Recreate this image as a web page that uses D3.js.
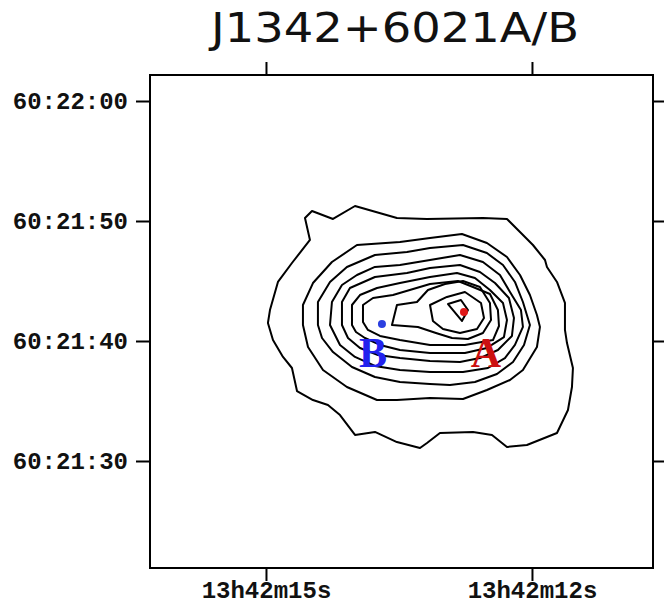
<!DOCTYPE html>
<html>
<head>
<meta charset="utf-8">
<script src="https://cdn.jsdelivr.net/npm/d3@7"></script>
<style>
  body { margin: 0; background: #fff; }
  .tick text { font-family: "Liberation Mono", "DejaVu Sans Mono", monospace; font-weight: bold; font-size: 24px; fill: #111; }
  .tick line { stroke: #000; stroke-width: 2; }
  .domain { display: none; }
</style>
</head>
<body>
<div id="container"></div>
<script>
// RA in seconds past 13h42m, Dec in arcsec past 60:21:00
const xTicks = [15, 12];
const xTickLabels = ["13h42m15s", "13h42m12s"];
const yTicks = [60, 50, 40, 30];
const yTickLabels = ["60:22:00", "60:21:50", "60:21:40", "60:21:30"];

// contour levels, outermost first, each a closed ring of [ra, dec]
const contour1 = [[14.560,50.25],[14.481,50.83],[14.244,50.17],[13.996,51.25],[13.523,50.25],[13.184,50.17],[12.553,50.25],[12.282,50.17],[12.135,49.08],[11.989,48.00],[11.853,46.75],[11.831,46.17],[11.718,44.92],[11.628,43.17],[11.628,40.92],[11.605,39.83],[11.538,37.75],[11.549,36.17],[11.594,34.25],[11.718,32.33],[12.057,31.33],[12.282,31.17],[12.451,32.17],[12.665,32.42],[13.038,32.33],[13.184,31.50],[13.263,31.08],[13.523,31.58],[13.771,32.42],[13.996,32.17],[14.165,33.83],[14.301,34.67],[14.470,35.08],[14.650,35.83],[14.707,37.75],[14.808,38.67],[14.921,40.08],[14.978,41.50],[14.955,42.58],[14.865,44.92],[14.707,46.50],[14.504,48.42]];
const contour2 = [[14.583,41.33],[14.583,43.00],[14.470,44.83],[14.256,46.58],[13.974,48.00],[13.489,48.25],[13.150,48.58],[12.790,48.92],[12.508,48.17],[12.282,47.00],[12.135,45.50],[12.023,43.83],[11.944,42.17],[11.910,41.17],[11.944,39.50],[12.102,37.58],[12.248,36.75],[12.508,35.92],[12.778,35.17],[13.150,35.25],[13.523,35.08],[13.748,35.08],[14.087,36.17],[14.357,37.58],[14.526,39.50]];
const contour3 = [[14.414,41.33],[14.414,43.25],[14.278,44.92],[14.087,46.17],[13.771,47.17],[13.410,47.42],[13.150,47.75],[12.778,48.00],[12.508,47.33],[12.327,46.33],[12.192,44.92],[12.102,43.25],[12.023,41.33],[12.090,39.67],[12.214,38.25],[12.395,37.25],[12.643,36.58],[12.925,36.33],[13.150,36.42],[13.489,36.58],[13.771,37.00],[14.030,37.83],[14.244,39.08],[14.368,40.25]];
const contour4 = [[14.278,41.33],[14.256,43.25],[14.143,44.67],[13.974,45.50],[13.771,46.17],[13.489,46.33],[13.150,46.75],[12.812,47.17],[12.553,46.58],[12.361,45.50],[12.248,44.08],[12.124,42.58],[12.102,41.17],[12.192,39.67],[12.305,38.58],[12.496,37.75],[12.778,37.42],[13.150,37.42],[13.489,37.58],[13.771,37.92],[13.996,38.67],[14.165,39.67]];
const contour5 = [[14.143,41.33],[14.143,43.25],[14.053,44.42],[13.771,45.33],[13.410,45.67],[13.150,46.08],[12.812,46.33],[12.587,45.75],[12.417,44.83],[12.260,43.58],[12.203,41.92],[12.226,40.42],[12.384,39.25],[12.587,38.58],[12.812,38.25],[13.150,38.33],[13.489,38.58],[13.737,38.83],[13.940,39.42],[14.075,40.25]];
const contour6 = [[14.030,41.33],[14.030,43.00],[13.940,43.83],[13.748,44.42],[13.489,44.83],[13.150,45.33],[12.846,45.67],[12.643,45.25],[12.474,44.25],[12.327,43.17],[12.282,41.75],[12.316,40.33],[12.508,39.42],[12.756,39.00],[13.150,39.00],[13.489,39.25],[13.714,39.67],[13.884,40.25],[13.985,40.75]];
const contour7 = [[13.906,41.58],[13.906,43.00],[13.793,43.58],[13.568,43.83],[13.150,44.75],[12.835,45.00],[12.665,44.50],[12.474,43.92],[12.384,42.58],[12.372,41.25],[12.440,40.08],[12.756,39.67],[13.150,39.67],[13.489,40.08],[13.714,40.42],[13.850,40.92]];
const contour8 = [[13.579,41.33],[13.523,43.00],[13.297,43.25],[13.173,44.25],[12.981,44.75],[12.778,45.00],[12.587,44.50],[12.474,43.17],[12.462,41.75],[12.553,40.67],[12.722,40.17],[12.902,40.25],[13.083,40.67],[13.286,41.17]];
const contour9 = [[13.150,43.00],[12.959,43.67],[12.756,44.08],[12.575,43.17],[12.541,41.92],[12.620,41.00],[12.812,40.67],[13.004,41.00],[13.117,41.67]];
const contour10 = [[12.947,43.08],[12.801,43.42],[12.722,42.58],[12.790,41.67]];
const contours = [contour1, contour2, contour3, contour4, contour5, contour6, contour7, contour8, contour9, contour10];

const sourceNames = ["A", "B"];
const sourceRA = [12.767, 13.692];
const sourceDec = [42.42, 41.42];
const labelRA = [12.519, 13.793];
const labelDec = [37.83, 37.83];
const sourceColors = ["#e01818", "#2b3fe0"];
const labelColors = ["#cc1111", "#2222ee"];

const width = 664, height = 606;
const plotLeft = 150, plotRight = 653, plotTop = 75, plotBottom = 568;

const svg = d3.select('#container').append('svg')
    .attr('width', width)
    .attr('height', height);

const xScale = d3.scaleLinear()
    .domain([16.308, 10.635])
    .range([plotLeft, plotRight]);

const yScale = d3.scaleLinear()
    .domain([21.083, 62.167])
    .range([plotBottom, plotTop]);

svg.append('text')
    .attr('x', 395)
    .attr('y', 42)
    .attr('text-anchor', 'middle')
    .attr('textLength', 368)
    .attr('lengthAdjust', 'spacingAndGlyphs')
    .style('font-family', '"DejaVu Sans", sans-serif')
    .style('font-size', '41px')
    .attr('fill', '#111')
    .text('J1342+6021A/B');

// axes on all four sides, ticks outside
svg.append('g')
    .attr('transform', `translate(0, ${plotBottom})`)
    .call(d3.axisBottom(xScale).tickValues(xTicks).tickSize(13).tickSizeOuter(0).tickPadding(0)
        .tickFormat((d, i) => xTickLabels[i]));

svg.append('g')
    .attr('transform', `translate(0, ${plotTop})`)
    .call(d3.axisTop(xScale).tickValues(xTicks).tickSize(13).tickSizeOuter(0).tickFormat(''));

svg.append('g')
    .attr('transform', `translate(${plotLeft}, 0)`)
    .call(d3.axisLeft(yScale).tickValues(yTicks).tickSize(14).tickSizeOuter(0).tickPadding(8)
        .tickFormat((d, i) => yTickLabels[i]));

svg.append('g')
    .attr('transform', `translate(${plotRight}, 0)`)
    .call(d3.axisRight(yScale).tickValues(yTicks).tickSize(13).tickSizeOuter(0).tickFormat(''));

svg.append('rect')
    .attr('x', plotLeft)
    .attr('y', plotTop)
    .attr('width', plotRight - plotLeft)
    .attr('height', plotBottom - plotTop)
    .attr('fill', 'none')
    .attr('stroke', '#000')
    .attr('stroke-width', 2);

const line = d3.line()
    .x(d => xScale(d[0]))
    .y(d => yScale(d[1]))
    .curve(d3.curveLinearClosed);

svg.append('g')
    .selectAll('path')
    .data(contours)
    .enter()
    .append('path')
    .attr('d', line)
    .attr('fill', 'none')
    .attr('stroke', '#000')
    .attr('stroke-width', 2)
    .attr('stroke-linejoin', 'round');

svg.append('g')
    .selectAll('circle')
    .data(sourceNames)
    .enter()
    .append('circle')
    .attr('cx', (d, i) => xScale(sourceRA[i]))
    .attr('cy', (d, i) => yScale(sourceDec[i]))
    .attr('r', 4)
    .attr('fill', (d, i) => sourceColors[i]);

svg.append('g')
    .selectAll('text')
    .data(sourceNames)
    .enter()
    .append('text')
    .attr('x', (d, i) => xScale(labelRA[i]))
    .attr('y', (d, i) => yScale(labelDec[i]))
    .attr('text-anchor', 'middle')
    .style('font-family', '"Liberation Serif", "Times New Roman", serif')
    .style('font-weight', 'bold')
    .style('font-size', '42px')
    .attr('fill', (d, i) => labelColors[i])
    .text(d => d);
</script>
</body>
</html>
